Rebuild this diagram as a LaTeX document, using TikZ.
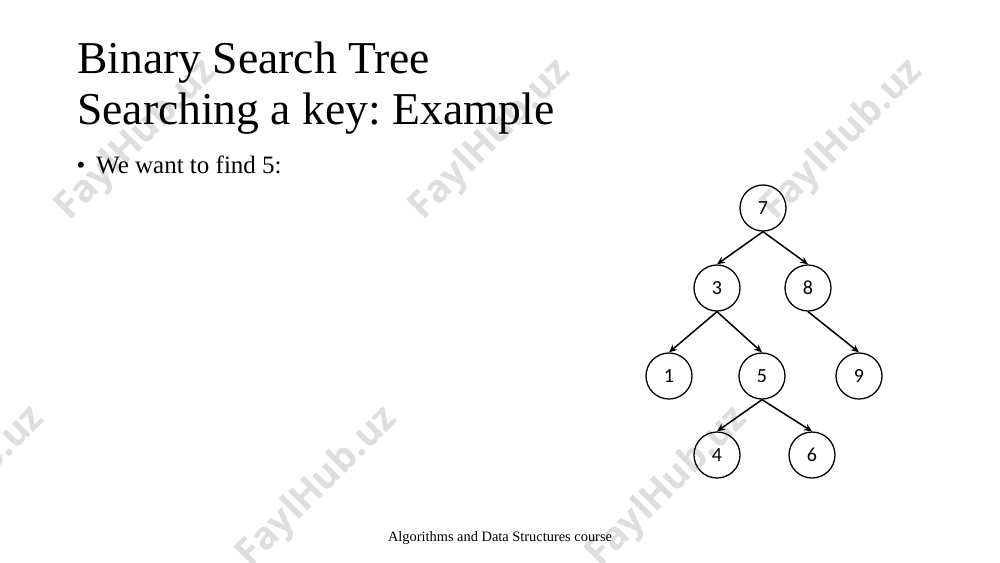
\documentclass[tikz,border=0pt]{standalone}
\usepackage{fontspec}
\setmainfont{Liberation Serif}
\newfontfamily\nodefont{Carlito}
\newfontfamily\wmfont{Open Sans}
\usetikzlibrary{arrows.meta}
\frenchspacing
\begin{document}
\begin{tikzpicture}[x=1pt,y=-1pt,
  bstnode/.style={circle,draw,line width=1.3pt,minimum size=46pt,inner sep=0pt,font=\nodefont\fontsize{20}{22}\selectfont},
  bstedge/.style={line width=1.5pt,-{Stealth[length=8pt,width=7pt]}},
  wmark/.style={rotate=45,text=black!13,font=\wmfont\bfseries\fontsize{38}{40}\selectfont,inner sep=0pt},
  titletext/.style={anchor=base west,inner sep=0pt,font=\fontsize{45.6}{49}\selectfont}]
\useasboundingbox (0,0) rectangle (1000,562);
\fill[white] (0,0) rectangle (1000,562);
% watermarks
\node[wmark] (w1) at (137,140) {FaylHub.uz};
\node[wmark] (w2) at (491,140) {FaylHub.uz};
\node[wmark] (w3) at (843,140) {FaylHub.uz};
\node[wmark] (w4) at (-35,487) {FaylHub.uz};
\node[wmark] (w5) at (318,487) {FaylHub.uz};
\node[wmark] (w6) at (668,487) {FaylHub.uz};
% title
\node[titletext] (t1) at (77,73.5) {Binary Search Tree};
\node[titletext] (t2) at (77,124.5) {Searching a key: Example};
% bullet
\node[anchor=base,inner sep=0pt,font=\fontsize{25}{28}\selectfont] (bul) at (81,173) {•};
\node[anchor=base west,inner sep=0pt,font=\fontsize{25}{28}\selectfont] (b1) at (96,173) {We want to find 5:};
% footer
\node[anchor=base,inner sep=0pt,font=\fontsize{14.4}{16}\selectfont] (foot) at (500,541) {Algorithms and Data Structures course};
% tree
\node[bstnode] (n7) at (763,208) {7};
\node[bstnode] (n3) at (717,288) {3};
\node[bstnode] (n8) at (808,288) {8};
\node[bstnode] (n1) at (669,376) {1};
\node[bstnode] (n5) at (762,376) {5};
\node[bstnode] (n9) at (859,376) {9};
\node[bstnode] (n4) at (717,455) {4};
\node[bstnode] (n6) at (812,455) {6};
\draw[bstedge] (n7.south) -- (n3.north);
\draw[bstedge] (n7.south) -- (n8.north);
\draw[bstedge] (n3.south) -- (n1.north);
\draw[bstedge] (n3.south) -- (n5.north);
\draw[bstedge] (n8.south) -- (n9.north);
\draw[bstedge] (n5.south) -- (n4.north);
\draw[bstedge] (n5.south) -- (n6.north);
\end{tikzpicture}
\end{document}
